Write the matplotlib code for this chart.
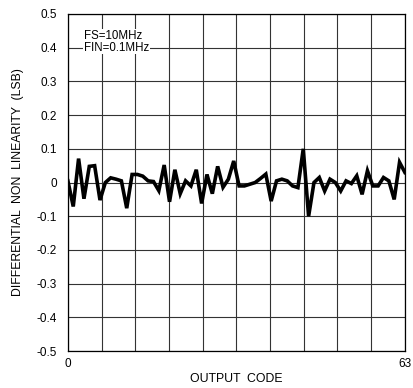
import numpy as np
import matplotlib.pyplot as plt

plt.rcParams['font.family'] = ['Liberation Sans', 'DejaVu Sans']

# DNL per output code
codes = list(range(64))
dnl = [0.005, -0.071, 0.071, -0.048, 0.048, 0.05, -0.052, 0.0, 0.014, 0.01,
       0.005, -0.076, 0.024, 0.024, 0.019, 0.005, 0.003, -0.024, 0.052, -0.057,
       0.038, -0.033, 0.005, -0.01, 0.038, -0.062, 0.024, -0.033, 0.048, -0.014,
       0.01, 0.064, -0.01, -0.01, -0.005, 0.0, 0.012, 0.025, -0.055, 0.005,
       0.01, 0.005, -0.01, -0.015, 0.1, -0.1, 0.0, 0.015, -0.025, 0.01,
       0.0, -0.025, 0.005, -0.003, 0.02, -0.035, 0.035, -0.01, -0.01, 0.015,
       0.005, -0.05, 0.06, 0.03]

y_ticks = [0.5, 0.4, 0.3, 0.2, 0.1, 0, -0.1, -0.2, -0.3, -0.4, -0.5]
y_labels = ['0.5', '0.4', '0.3', '0.2', '0.1', '0', '-0.1', '-0.2', '-0.3', '-0.4', '-0.5']

fig = plt.figure(figsize=(4.14, 3.88), dpi=100)
ax = fig.add_axes([0.164, 0.095, 0.814, 0.869])

ax.plot(codes, dnl, color='black', lw=2.6, solid_joinstyle='miter', zorder=3)

ax.set_xlim(0, 63)
ax.set_ylim(-0.5, 0.5)
ax.set_yticks(y_ticks)
ax.set_yticklabels(y_labels, fontsize=8.5)
xt = np.linspace(0, 63, 11)
ax.set_xticks(xt)
ax.set_xticklabels(['0'] + [''] * 9 + ['63'], fontsize=8.5)
ax.tick_params(length=0, pad=8)
ax.tick_params(axis='x', pad=5)
ax.grid(True, color='#333333', lw=0.8)
for s in ax.spines.values():
    s.set_linewidth(0.9)

ax.set_xlabel('OUTPUT  CODE', fontsize=8.8, labelpad=2)
ax.set_ylabel('DIFFERENTIAL  NON  LINEARITY  (LSB)', fontsize=8.8, labelpad=9)

ax.text(3.0, 0.418, 'FS=10MHz\nFIN=0.1MHz', fontsize=8.3, va='center', ha='left',
        linespacing=1.0, bbox=dict(facecolor='white', edgecolor='none', pad=0.5), zorder=4)

fig.savefig('out.png', dpi=100)
